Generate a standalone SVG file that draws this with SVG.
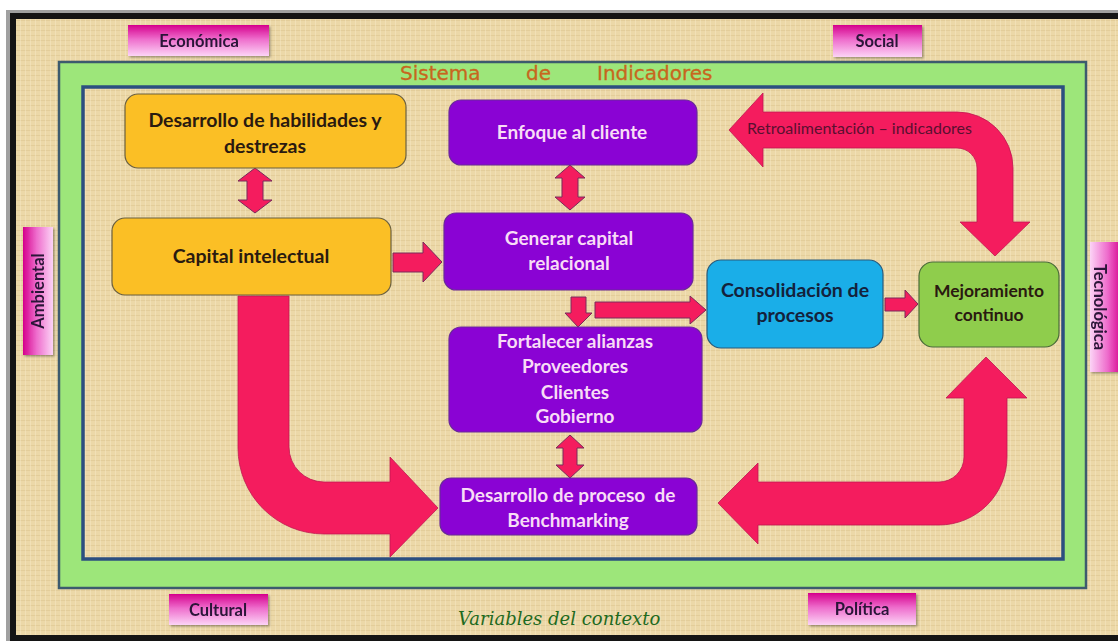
<svg xmlns="http://www.w3.org/2000/svg" width="1118" height="641" viewBox="0 0 1118 641">
  <style>
    .lbl { font-family: Lato, "Liberation Sans", sans-serif; font-weight: bold; font-size: 16.5px; fill: #2a1438; text-anchor: middle; }
    .dark { font-family: Lato, "Liberation Sans", sans-serif; font-weight: bold; font-size: 19.5px; fill: #2a1a10; text-anchor: middle; }
    .light { font-family: Lato, "Liberation Sans", sans-serif; font-weight: bold; font-size: 19px; fill: #f8dcf6; text-anchor: middle; }
    .navy { font-family: Lato, "Liberation Sans", sans-serif; font-weight: bold; font-size: 19.5px; fill: #14223c; text-anchor: middle; }
    .title { font-family: "Comic Sans MS", "DejaVu Sans", sans-serif; font-size: 20px; fill: #c8661e; stroke: #c8661e; stroke-width: 0.3; }
    .ctx { font-family: "DejaVu Serif", serif; font-style: italic; font-size: 18px; fill: #1f6a1f; }
    .fb { font-family: Lato, "Liberation Sans", sans-serif; font-size: 16px; fill: #5a1030; }
    .yellow { fill: #fbbf25; stroke: #6b6040; stroke-width: 1.2; }
    .purple { fill: #8a03d4; stroke: #6a2a9a; stroke-width: 1.2; }
    .cyan { fill: #1aaee8; stroke: #2a5a7a; stroke-width: 1.2; }
    .green { fill: #8fcd4c; stroke: #4a6a3a; stroke-width: 1.2; }
    .arrow { fill: #f41c5e; stroke: #7a2a5a; stroke-width: 1; }
    .bigarrow { fill: #f41c5e; stroke: #c01850; stroke-width: 0.8; }
  </style>
  <defs>
    <pattern id="tex" width="5" height="5" patternUnits="userSpaceOnUse">
      <rect width="5" height="5" fill="#ecd8a8"/>
      <path d="M0 0.5H5" stroke="#d8bf8a" stroke-opacity="0.45"/>
      <path d="M0.5 0V5" stroke="#f6e8c4" stroke-opacity="0.5"/>
    </pattern>
    <linearGradient id="tabV" x1="0" y1="0" x2="0" y2="1">
      <stop offset="0" stop-color="#d5008c"/>
      <stop offset="0.45" stop-color="#ee6ccc"/>
      <stop offset="1" stop-color="#fcd4f6"/>
    </linearGradient>
    <linearGradient id="tabL" x1="0" y1="0" x2="1" y2="0">
      <stop offset="0" stop-color="#d5008c"/>
      <stop offset="0.45" stop-color="#ee6ccc"/>
      <stop offset="1" stop-color="#fcd4f6"/>
    </linearGradient>
    <linearGradient id="tabR" x1="1" y1="0" x2="0" y2="0">
      <stop offset="0" stop-color="#d5008c"/>
      <stop offset="0.45" stop-color="#ee6ccc"/>
      <stop offset="1" stop-color="#fcd4f6"/>
    </linearGradient>
    <filter id="sh" x="-10%" y="-10%" width="130%" height="140%">
      <feDropShadow dx="1.5" dy="1.5" stdDeviation="1" flood-color="#000" flood-opacity="0.35"/>
    </filter>
  </defs>

  <!-- page -->
  <rect x="0" y="0" width="1118" height="641" fill="#ffffff"/>
  <rect x="6" y="10" width="1120" height="640" fill="#a0a0a0"/>
  <rect x="10" y="13" width="1118" height="630" fill="#141414"/>
  <rect x="16" y="19" width="1110" height="616" fill="url(#tex)"/>

  <!-- frame band -->
  <g id="frame">
    <rect x="59" y="62" width="1027" height="526" fill="#9de67a" stroke="#3d5a6e" stroke-width="2.5"/>
    <rect x="83" y="87" width="980" height="472" fill="url(#tex)" stroke="#2c4f80" stroke-width="3.5"/>
    <text class="title" x="400" y="80">Sistema</text>
    <text class="title" x="526" y="80">de</text>
    <text class="title" x="597" y="80">Indicadores</text>
    <text class="ctx" x="458" y="625">Variables del contexto</text>
  </g>

  <!-- context tabs -->
  <g id="tab-economica" filter="url(#sh)">
    <rect x="128" y="25" width="141" height="31" fill="url(#tabV)"/>
    <text class="lbl" x="199" y="47">Económica</text>
  </g>
  <g id="tab-social" filter="url(#sh)">
    <rect x="833" y="25" width="89" height="32" fill="url(#tabV)"/>
    <text class="lbl" x="877" y="47">Social</text>
  </g>
  <g id="tab-cultural" filter="url(#sh)">
    <rect x="169" y="594" width="99" height="31" fill="url(#tabV)"/>
    <text class="lbl" x="218" y="616">Cultural</text>
  </g>
  <g id="tab-politica" filter="url(#sh)">
    <rect x="808" y="593" width="108" height="32" fill="url(#tabV)"/>
    <text class="lbl" x="862" y="615">Política</text>
  </g>
  <g id="tab-ambiental" filter="url(#sh)">
    <rect x="23" y="227" width="30" height="128" fill="url(#tabL)"/>
    <text class="lbl" transform="translate(44 291) rotate(-90)" x="0" y="0">Ambiental</text>
  </g>
  <g id="tab-tecnologica" filter="url(#sh)">
    <rect x="1090" y="242" width="32" height="130" fill="url(#tabR)"/>
    <text class="lbl" transform="translate(1094 307) rotate(90)" x="0" y="0">Tecnológica</text>
  </g>

  <!-- connectors -->
  <g id="connectors">
    <path class="bigarrow" d="M238 296 L289 296 L289 447 A35 35 0 0 0 324 482 L390 482 L390 457 L438 508 L390 557 L390 534 L324 534 A86 86 0 0 1 238 448 Z"/>
    <path class="bigarrow" d="M718 503 L758 463 L758 482 L939 482 A25 25 0 0 0 964 457 L964 398 L946 398 L986 357 L1027 398 L1007 398 L1007 457 A68 68 0 0 1 939 525 L758 525 L758 544 Z"/>
    <path class="bigarrow" d="M729 130 L763 93 L763 112 L957 112 A56 56 0 0 1 1013 168 L1013 222 L1030 222 L995 256 L960 222 L977 222 L977 168 A20 20 0 0 0 957 148 L763 148 L763 167 Z"/>
    <text class="fb" x="747" y="134">Retroalimentación – indicadores</text>

    <path class="arrow" d="M255 168 L272 181 L263 181 L263 200 L272 200 L255 213 L238 200 L247 200 L247 181 L238 181 Z"/>
    <path class="arrow" d="M570 165 L585 178 L578 178 L578 197 L585 197 L570 210 L555 197 L562 197 L562 178 L555 178 Z"/>
    <path class="arrow" d="M570 435 L584 448 L577 448 L577 465 L584 465 L570 478 L556 465 L563 465 L563 448 L556 448 Z"/>
    <path class="arrow" d="M393 253 L423 253 L423 242 L442 262 L423 282 L423 272 L393 272 Z"/>
    <path class="arrow" d="M571 297 L586 297 L586 313 L592 313 L578 327 L565 313 L571 313 Z"/>
    <path class="arrow" d="M595 302 L690 302 L690 296 L706 310 L690 324 L690 318 L595 318 Z"/>
    <path class="arrow" d="M885 298 L905 298 L905 290 L918 304 L905 318 L905 311 L885 311 Z"/>
  </g>

  <!-- nodes -->
  <g id="n-habilidades">
    <rect class="yellow" x="125" y="94" width="281" height="74" rx="13"/>
    <text class="dark" x="265" y="127">Desarrollo de habilidades y</text>
    <text class="dark" x="265" y="153">destrezas</text>
  </g>
  <g id="n-capital">
    <rect class="yellow" x="112" y="218" width="279" height="77" rx="13"/>
    <text class="dark" x="251" y="263">Capital intelectual</text>
  </g>
  <g id="n-enfoque">
    <rect class="purple" x="449" y="100" width="248" height="65" rx="12"/>
    <text class="light" x="572" y="139">Enfoque al cliente</text>
  </g>
  <g id="n-generar">
    <rect class="purple" x="444" y="213" width="249" height="77" rx="12"/>
    <text class="light" x="569" y="245">Generar capital</text>
    <text class="light" x="569" y="270">relacional</text>
  </g>
  <g id="n-fortalecer">
    <rect class="purple" x="449" y="327" width="253" height="105" rx="12"/>
    <text class="light" x="575" y="348">Fortalecer alianzas</text>
    <text class="light" x="575" y="373">Proveedores</text>
    <text class="light" x="575" y="399">Clientes</text>
    <text class="light" x="575" y="423">Gobierno</text>
  </g>
  <g id="n-benchmarking">
    <rect class="purple" x="440" y="478" width="257" height="57" rx="11"/>
    <text class="light" x="568" y="502" xml:space="preserve">Desarrollo de proceso  de</text>
    <text class="light" x="568" y="527">Benchmarking</text>
  </g>
  <g id="n-consolidacion">
    <rect class="cyan" x="707" y="260" width="176" height="88" rx="14"/>
    <text class="navy" x="795" y="297">Consolidación de</text>
    <text class="navy" x="795" y="322">procesos</text>
  </g>
  <g id="n-mejoramiento">
    <rect class="green" x="919" y="262" width="140" height="85" rx="14"/>
    <text class="dark" x="989" y="297" style="font-size:17.5px">Mejoramiento</text>
    <text class="dark" x="989" y="321" style="font-size:17.5px">continuo</text>
  </g>
</svg>
